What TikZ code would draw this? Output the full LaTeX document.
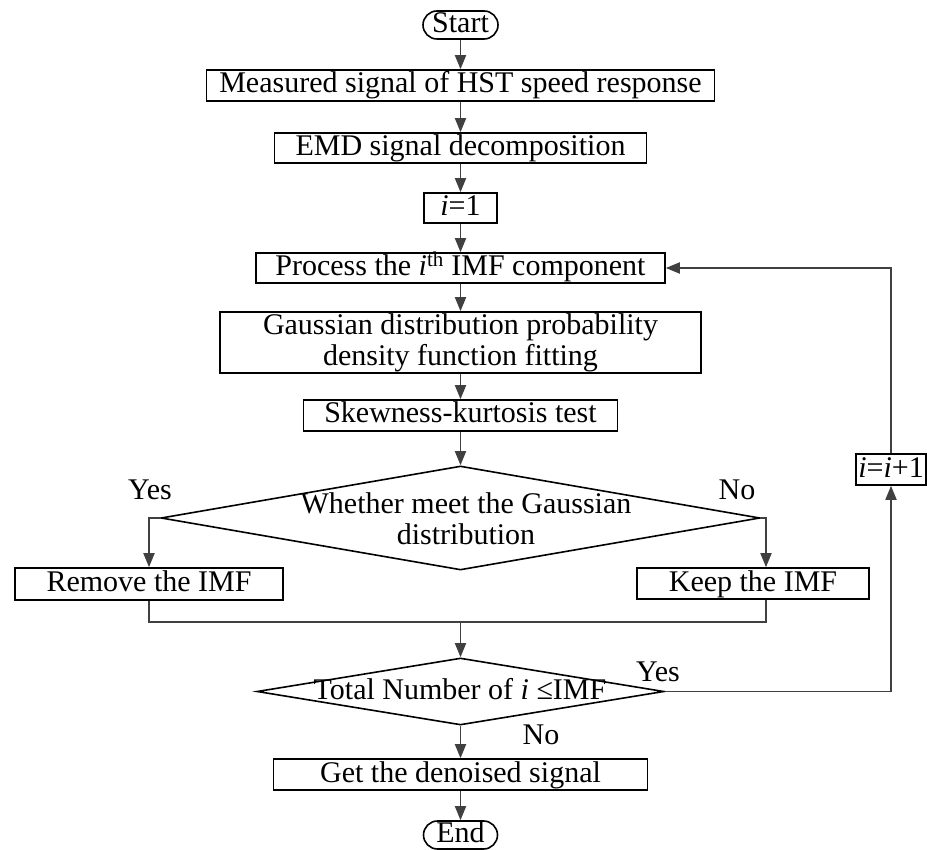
\documentclass[tikz,border=0pt]{standalone}
\usepackage{fontspec}
\setmainfont{Liberation Serif}
\usetikzlibrary{arrows.meta,shapes.geometric,calc}
\definecolor{conn}{RGB}{64,64,64}
\newcommand\fs{\fontsize{30}{31}\selectfont}
\begin{document}
\begin{tikzpicture}[x=1pt,y=-1pt,
  box/.style={draw=black, line width=1.6pt, rectangle, inner sep=0pt, font=\fs, align=center},
  sbox/.style={box, text height=21pt, text depth=6pt},
  term/.style={draw=black, line width=1.6pt, rectangle, rounded corners=14pt, inner sep=0pt, font=\fs, text height=21pt, text depth=6pt},
  dia/.style={draw=black, line width=1.6pt, diamond, inner sep=0pt},
  lbl/.style={font=\fs, inner sep=0pt, align=center},
  arr/.style={draw=conn, line width=1.8pt, -{Triangle[length=14pt,width=11pt]}},
  ln/.style={draw=conn, line width=1.8pt}]
\useasboundingbox (0,0) rectangle (927,850);
% nodes
\node[term, minimum width=75pt, minimum height=28pt] (start) at (460.5,25) {Start};
\node[sbox, minimum width=508pt, minimum height=31pt] (meas) at (460.5,85.5) {Measured signal of HST speed response};
\node[sbox, minimum width=372pt, minimum height=30pt] (emd) at (460.5,148) {EMD signal decomposition};
\node[sbox, minimum width=73pt, minimum height=30pt] (ione) at (460.5,208) {\textit{i}=1};
\node[sbox, minimum width=409pt, minimum height=30pt] (proc) at (460.5,268) {Process the \textit{i}\textsuperscript{th} IMF component};
\node[box, minimum width=481pt, minimum height=61pt] (gauss) at (460.5,342.5) {Gaussian distribution probability\\density function fitting};
\node[sbox, minimum width=314pt, minimum height=31pt] (skew) at (460.5,415.5) {Skewness-kurtosis test};
\node[dia, minimum width=599pt, minimum height=104pt] (d1) at (460.5,518) {};
\node[lbl] (d1t) at (466,519) {Whether meet the Gaussian\\distribution};
\node[sbox, minimum width=268pt, minimum height=32pt] (remove) at (149,584) {Remove the IMF};
\node[sbox, minimum width=232pt, minimum height=31pt] (keep) at (753,583.5) {Keep the IMF};
\node[dia, minimum width=407pt, minimum height=67pt] (d2) at (460.5,691.5) {};
\node[lbl, text height=21pt, text depth=6pt] (d2t) at (460,692) {Total Number of \textit{i} ≤IMF};
\node[sbox, minimum width=374pt, minimum height=31pt] (done) at (460.5,774.5) {Get the denoised signal};
\node[term, minimum width=74pt, minimum height=28pt] (end) at (460.5,835) {End};
\node[sbox, minimum width=70pt, minimum height=31pt] (inc) at (891,469.5) {\textit{i}=\textit{i}+1};
% labels
\node[lbl] (y1) at (150,490) {Yes};
\node[lbl] (n1) at (737,490) {No};
\node[lbl] (y2) at (658,672) {Yes};
\node[lbl] (n2) at (541,735) {No};
% helper coordinates
\coordinate (kx) at (766,0);
\coordinate (mrg) at (460.5,622);
% connectors
\draw[arr] (start.south) -- (meas.north);
\draw[arr] (meas.south) -- (emd.north);
\draw[arr] (emd.south) -- (ione.north);
\draw[arr] (ione.south) -- (proc.north);
\draw[arr] (proc.south) -- (gauss.north);
\draw[arr] (gauss.south) -- (skew.north);
\draw[arr] (skew.south) -- (d1.north);
\draw[arr] (d1.west) -| (remove.north);
\draw[arr] (d1.east) -| (kx |- keep.north);
\draw[ln] (remove.south) |- (kx |- mrg) -- (kx |- keep.south);
\draw[arr] (mrg) -- (d2.north);
\draw[arr] (d2.east) -| (inc.south);
\draw[arr] (inc.north) |- (proc.east);
\draw[arr] (d2.south) -- (done.north);
\draw[arr] (done.south) -- (end.north);
\end{tikzpicture}
\end{document}
